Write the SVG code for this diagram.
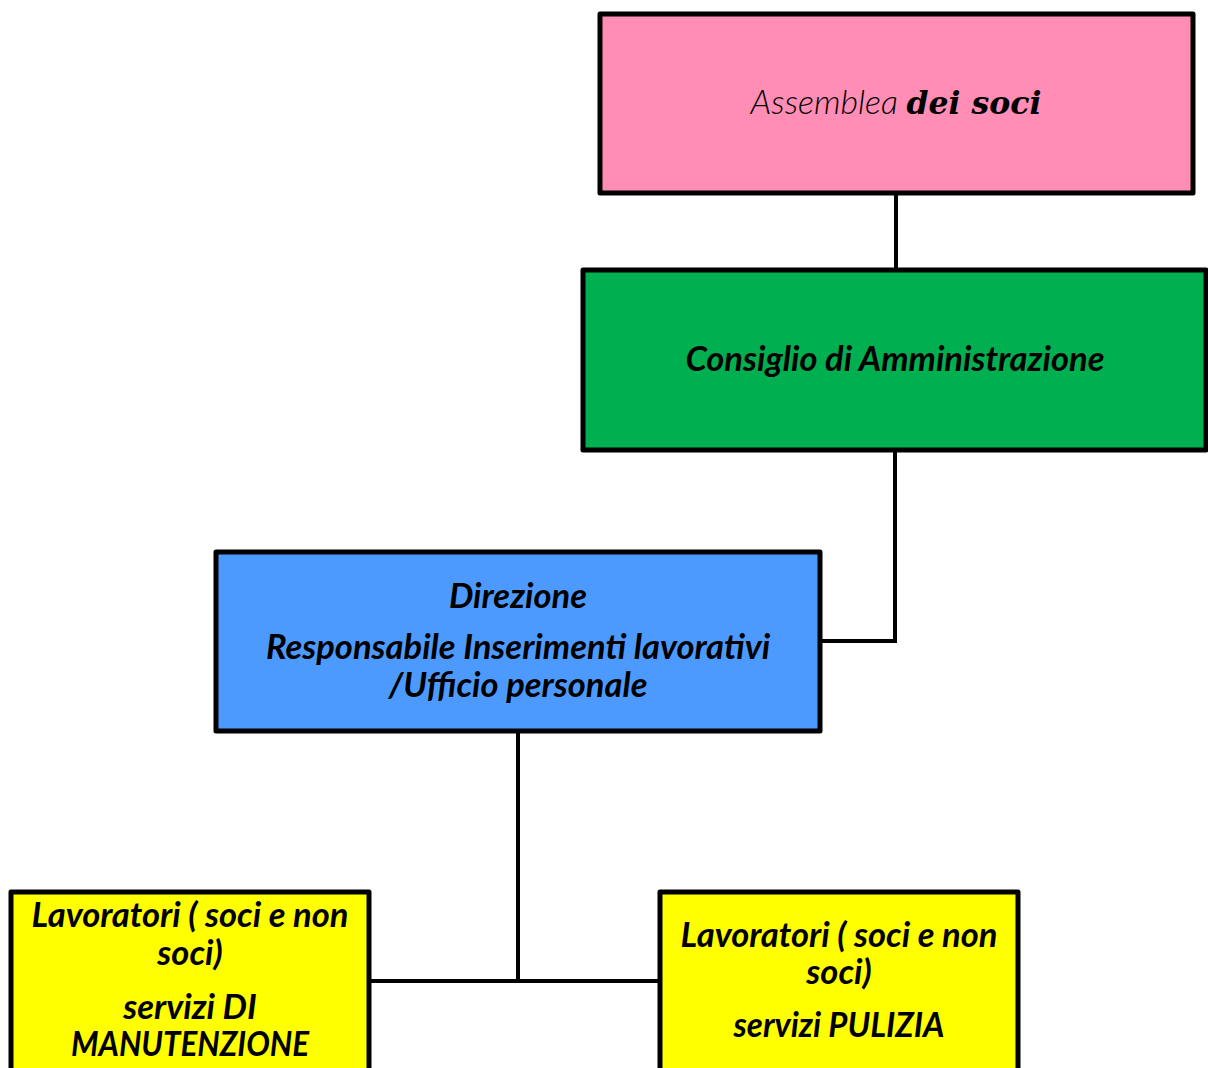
<svg xmlns="http://www.w3.org/2000/svg" width="1208" height="1068" viewBox="0 0 1208 1068">
<style>
.box{stroke:#000;stroke-width:5;stroke-linejoin:round}
.t{font-family:Lato,"Open Sans","Liberation Sans",sans-serif;font-style:italic;font-weight:bold;font-size:34.5px;fill:#000;text-anchor:middle}
.c{fill:none;stroke:#000;stroke-width:4}
</style>
<rect width="1208" height="1068" fill="#fff"/>
<g id="connectors">
<polyline class="c" points="896,193 896,270"/>
<polyline class="c" points="895,450 895,641 821,641"/>
<polyline class="c" points="518,732 518,981"/>
<polyline class="c" points="370,981 660,981"/>
</g>
<g id="assemblea">
<rect class="box" x="600" y="14" width="593" height="179" fill="#ff8db5"/>
<text x="896" y="114" style="font-family:Lato,'Open Sans',sans-serif;font-style:italic;font-weight:300;font-size:34px;text-anchor:middle"><tspan>Assemblea </tspan><tspan style="font-family:'DejaVu Serif','Liberation Serif',serif;font-weight:bold;font-size:31.5px">dei soci</tspan></text>
</g>
<g id="consiglio">
<rect class="box" x="583" y="270" width="623" height="180" fill="#00b050"/>
<text class="t" x="895" y="371">Consiglio di Amministrazione</text>
</g>
<g id="direzione">
<rect class="box" x="216" y="552" width="604" height="179" fill="#4d9aff"/>
<text class="t" x="518" y="608">Direzione</text>
<text class="t" x="518" y="659">Responsabile Inserimenti lavorativi</text>
<text class="t" x="518" y="697">/Ufficio personale</text>
</g>
<g id="manutenzione">
<rect class="box" x="11" y="892" width="358" height="200" fill="#ffff00"/>
<text class="t" x="190" y="927">Lavoratori ( soci e non</text>
<text class="t" x="190" y="965">soci)</text>
<text class="t" x="190" y="1019">servizi DI</text>
<text class="t" x="190" y="1056" textLength="238" lengthAdjust="spacingAndGlyphs">MANUTENZIONE</text>
</g>
<g id="pulizia">
<rect class="box" x="660" y="892" width="358" height="200" fill="#ffff00"/>
<text class="t" x="839" y="947">Lavoratori ( soci e non</text>
<text class="t" x="839" y="984">soci)</text>
<text class="t" x="839" y="1037" textLength="211" lengthAdjust="spacingAndGlyphs">servizi PULIZIA</text>
</g>
</svg>
